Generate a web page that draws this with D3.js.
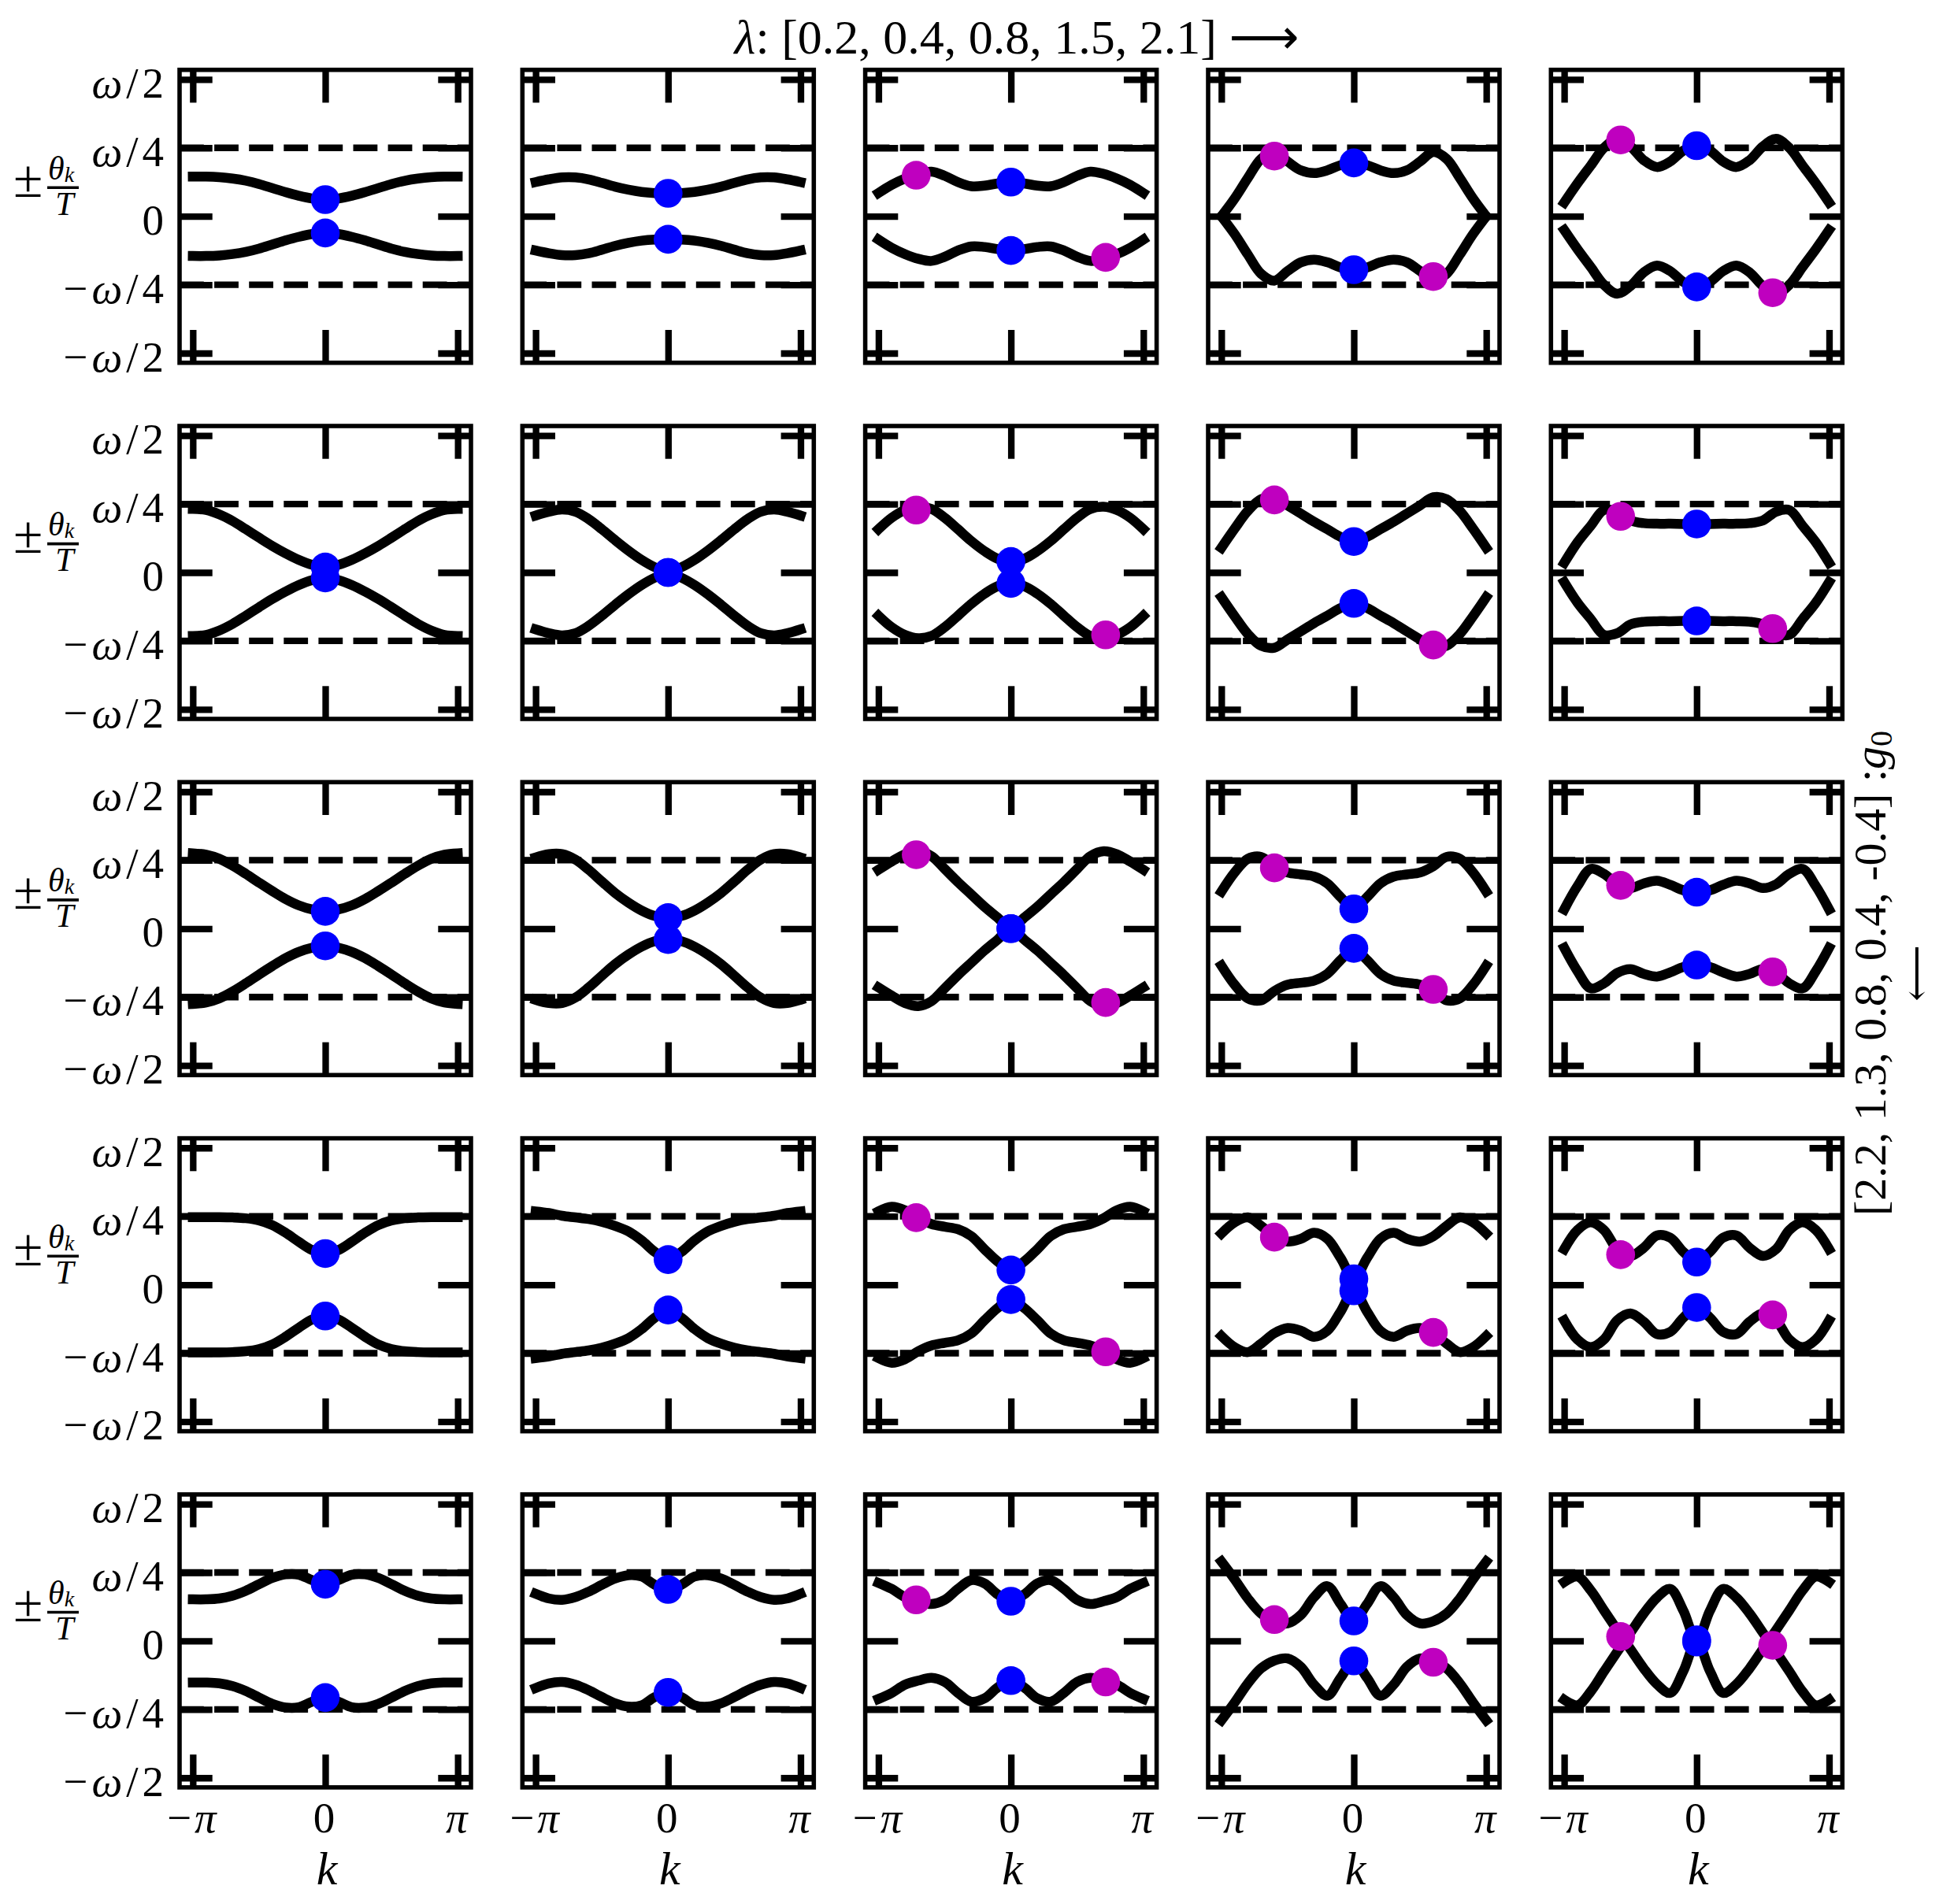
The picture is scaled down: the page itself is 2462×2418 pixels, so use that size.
<!DOCTYPE html>
<html><head><meta charset="utf-8">
<script src="https://cdn.jsdelivr.net/npm/d3@7"></script>
<style>
body{margin:0;background:#fff}
svg{display:block;background:#fff}
text{font-family:"Liberation Serif","DejaVu Serif",serif;fill:#000}
</style>
</head><body>
<svg id="chart" width="2462" height="2418"></svg>
<script>
// ---------------- data ----------------
const lambdas = ["0.2", "0.4", "0.8", "1.5", "2.1"];
const g0s = ["2.2", "1.3", "0.8", "0.4", "-0.4"];
const yTickVals = [-0.5, -0.25, 0, 0.25, 0.5];          // units of ω
const yTickLabels = ["−ω/2", "−ω/4", "0", "ω/4", "ω/2"];
const xTickVals = [-1, 0, 1];                            // units of π
const xTickLabels = ["−π", "0", "π"];
const kPi = [-1,-0.9,-0.8,-0.7,-0.6,-0.5,-0.4,-0.3,-0.2,-0.1,0,0.1,0.2,0.3,0.4,0.5,0.6,0.7,0.8,0.9,1];

const upperR1 = [
  [0.145,0.145,0.143,0.138,0.13,0.118,0.103,0.088,0.075,0.065,0.061,0.065,0.075,0.088,0.103,0.118,0.13,0.138,0.143,0.145,0.145],
  [0.125,0.135,0.142,0.142,0.135,0.122,0.108,0.097,0.089,0.085,0.084,0.085,0.089,0.097,0.108,0.122,0.135,0.142,0.142,0.135,0.125],
  [0.085,0.115,0.138,0.155,0.163,0.148,0.125,0.11,0.112,0.12,0.125,0.12,0.112,0.11,0.125,0.148,0.163,0.155,0.138,0.115,0.085],
  [0,0.065,0.14,0.21,0.235,0.2,0.168,0.158,0.168,0.187,0.195,0.187,0.168,0.158,0.168,0.2,0.235,0.21,0.14,0.065,0],
  [0.05,0.12,0.185,0.25,0.283,0.255,0.205,0.18,0.2,0.24,0.258,0.24,0.2,0.18,0.205,0.255,0.283,0.25,0.185,0.12,0.05]
];
const lowerR1 = [
  [-0.145,-0.145,-0.143,-0.138,-0.13,-0.118,-0.103,-0.088,-0.075,-0.065,-0.061,-0.065,-0.075,-0.088,-0.103,-0.118,-0.13,-0.138,-0.143,-0.145,-0.145],
  [-0.125,-0.135,-0.142,-0.142,-0.135,-0.122,-0.108,-0.097,-0.089,-0.085,-0.084,-0.085,-0.089,-0.097,-0.108,-0.122,-0.135,-0.142,-0.142,-0.135,-0.125],
  [-0.085,-0.115,-0.138,-0.155,-0.163,-0.148,-0.125,-0.11,-0.112,-0.12,-0.125,-0.12,-0.112,-0.11,-0.125,-0.148,-0.163,-0.155,-0.138,-0.115,-0.085],
  [0,-0.065,-0.14,-0.21,-0.235,-0.2,-0.168,-0.158,-0.168,-0.187,-0.195,-0.187,-0.168,-0.158,-0.168,-0.2,-0.235,-0.21,-0.14,-0.065,0],
  [-0.05,-0.12,-0.185,-0.25,-0.283,-0.255,-0.205,-0.18,-0.2,-0.24,-0.258,-0.24,-0.2,-0.18,-0.205,-0.255,-0.283,-0.25,-0.185,-0.12,-0.05]
];
const upperR2 = [
  [0.232,0.228,0.212,0.188,0.158,0.127,0.097,0.07,0.046,0.028,0.02,0.028,0.046,0.07,0.097,0.127,0.158,0.188,0.212,0.228,0.232],
  [0.208,0.222,0.23,0.222,0.195,0.158,0.118,0.08,0.046,0.019,0.003,0.019,0.046,0.08,0.118,0.158,0.195,0.222,0.23,0.222,0.208],
  [0.158,0.2,0.228,0.24,0.232,0.2,0.158,0.115,0.078,0.05,0.04,0.05,0.078,0.115,0.158,0.2,0.232,0.24,0.228,0.2,0.158],
  [0.09,0.16,0.225,0.268,0.275,0.245,0.215,0.185,0.158,0.13,0.113,0.13,0.158,0.185,0.215,0.245,0.275,0.268,0.225,0.16,0.09],
  [0.035,0.11,0.17,0.228,0.222,0.19,0.18,0.178,0.178,0.177,0.177,0.177,0.178,0.178,0.18,0.19,0.222,0.228,0.17,0.11,0.035]
];
const lowerR2 = [
  [-0.232,-0.228,-0.212,-0.188,-0.158,-0.127,-0.097,-0.07,-0.046,-0.028,-0.02,-0.028,-0.046,-0.07,-0.097,-0.127,-0.158,-0.188,-0.212,-0.228,-0.232],
  [-0.208,-0.222,-0.23,-0.222,-0.195,-0.158,-0.118,-0.08,-0.046,-0.019,-0.003,-0.019,-0.046,-0.08,-0.118,-0.158,-0.195,-0.222,-0.23,-0.222,-0.208],
  [-0.158,-0.2,-0.228,-0.24,-0.232,-0.2,-0.158,-0.115,-0.078,-0.05,-0.04,-0.05,-0.078,-0.115,-0.158,-0.2,-0.232,-0.24,-0.228,-0.2,-0.158],
  [-0.09,-0.16,-0.225,-0.268,-0.275,-0.245,-0.215,-0.185,-0.158,-0.13,-0.113,-0.13,-0.158,-0.185,-0.215,-0.245,-0.275,-0.268,-0.225,-0.16,-0.09],
  [-0.035,-0.11,-0.17,-0.228,-0.222,-0.19,-0.18,-0.178,-0.178,-0.177,-0.177,-0.177,-0.178,-0.178,-0.18,-0.19,-0.222,-0.228,-0.17,-0.11,-0.035]
];
const upperR3 = [
  [0.275,0.27,0.255,0.23,0.2,0.168,0.137,0.108,0.085,0.07,0.063,0.07,0.085,0.108,0.137,0.168,0.2,0.23,0.255,0.27,0.275],
  [0.26,0.272,0.272,0.252,0.215,0.172,0.13,0.095,0.066,0.046,0.04,0.046,0.066,0.095,0.13,0.172,0.215,0.252,0.272,0.272,0.26],
  [0.215,0.245,0.272,0.283,0.265,0.218,0.17,0.125,0.08,0.04,0,0.04,0.08,0.125,0.17,0.218,0.265,0.283,0.272,0.245,0.215],
  [0.135,0.205,0.255,0.262,0.228,0.205,0.198,0.19,0.165,0.115,0.072,0.115,0.165,0.19,0.198,0.205,0.228,0.262,0.255,0.205,0.135],
  [0.07,0.155,0.218,0.2,0.162,0.148,0.165,0.175,0.16,0.14,0.133,0.14,0.16,0.175,0.165,0.148,0.162,0.2,0.218,0.155,0.07]
];
const lowerR3 = [
  [-0.275,-0.27,-0.255,-0.23,-0.2,-0.168,-0.137,-0.108,-0.085,-0.07,-0.063,-0.07,-0.085,-0.108,-0.137,-0.168,-0.2,-0.23,-0.255,-0.27,-0.275],
  [-0.26,-0.272,-0.272,-0.252,-0.215,-0.172,-0.13,-0.095,-0.066,-0.046,-0.04,-0.046,-0.066,-0.095,-0.13,-0.172,-0.215,-0.252,-0.272,-0.272,-0.26],
  [-0.215,-0.245,-0.272,-0.283,-0.265,-0.218,-0.17,-0.125,-0.08,-0.04,0,-0.04,-0.08,-0.125,-0.17,-0.218,-0.265,-0.283,-0.272,-0.245,-0.215],
  [-0.135,-0.205,-0.255,-0.262,-0.228,-0.205,-0.198,-0.19,-0.165,-0.115,-0.072,-0.115,-0.165,-0.19,-0.198,-0.205,-0.228,-0.262,-0.255,-0.205,-0.135],
  [-0.07,-0.155,-0.218,-0.2,-0.162,-0.148,-0.165,-0.175,-0.16,-0.14,-0.133,-0.14,-0.16,-0.175,-0.165,-0.148,-0.162,-0.2,-0.218,-0.155,-0.07]
];
const upperR4 = [
  [0.247,0.247,0.247,0.246,0.243,0.235,0.218,0.19,0.157,0.127,0.114,0.127,0.157,0.19,0.218,0.235,0.243,0.246,0.247,0.247,0.247],
  [0.268,0.262,0.252,0.246,0.24,0.23,0.215,0.195,0.162,0.12,0.092,0.12,0.162,0.195,0.215,0.23,0.24,0.246,0.252,0.262,0.268],
  [0.268,0.285,0.272,0.243,0.222,0.212,0.203,0.178,0.13,0.085,0.054,0.085,0.13,0.178,0.203,0.212,0.222,0.243,0.272,0.285,0.268],
  [0.187,0.228,0.246,0.215,0.177,0.158,0.168,0.19,0.168,0.098,0.022,0.098,0.168,0.19,0.168,0.158,0.177,0.215,0.246,0.228,0.187],
  [0.13,0.2,0.228,0.2,0.13,0.105,0.135,0.18,0.172,0.12,0.083,0.12,0.172,0.18,0.135,0.105,0.13,0.2,0.228,0.2,0.13]
];
const lowerR4 = [
  [-0.247,-0.247,-0.247,-0.246,-0.243,-0.235,-0.218,-0.19,-0.157,-0.127,-0.114,-0.127,-0.157,-0.19,-0.218,-0.235,-0.243,-0.246,-0.247,-0.247,-0.247],
  [-0.268,-0.262,-0.252,-0.246,-0.24,-0.23,-0.215,-0.195,-0.162,-0.12,-0.092,-0.12,-0.162,-0.195,-0.215,-0.23,-0.24,-0.246,-0.252,-0.262,-0.268],
  [-0.268,-0.285,-0.272,-0.243,-0.222,-0.212,-0.203,-0.178,-0.13,-0.085,-0.054,-0.085,-0.13,-0.178,-0.203,-0.212,-0.222,-0.243,-0.272,-0.285,-0.268],
  [-0.187,-0.228,-0.246,-0.215,-0.177,-0.158,-0.168,-0.19,-0.168,-0.098,-0.022,-0.098,-0.168,-0.19,-0.168,-0.158,-0.177,-0.215,-0.246,-0.228,-0.187],
  [-0.13,-0.2,-0.228,-0.2,-0.13,-0.105,-0.135,-0.18,-0.172,-0.12,-0.083,-0.12,-0.172,-0.18,-0.135,-0.105,-0.13,-0.2,-0.228,-0.2,-0.13]
];
const upperR5 = [
  [0.152,0.152,0.155,0.165,0.183,0.207,0.23,0.243,0.242,0.222,0.207,0.222,0.242,0.243,0.23,0.207,0.183,0.165,0.155,0.152,0.152],
  [0.172,0.155,0.15,0.16,0.18,0.205,0.228,0.24,0.235,0.205,0.188,0.205,0.235,0.24,0.228,0.205,0.18,0.16,0.15,0.155,0.172],
  [0.212,0.19,0.16,0.145,0.135,0.15,0.19,0.222,0.21,0.17,0.145,0.17,0.21,0.222,0.19,0.15,0.135,0.145,0.16,0.19,0.212],
  [0.29,0.225,0.155,0.1,0.072,0.064,0.095,0.16,0.2,0.135,0.073,0.135,0.2,0.16,0.095,0.064,0.072,0.1,0.155,0.225,0.29],
  [0.215,0.235,0.185,0.112,0.04,-0.03,-0.1,-0.158,-0.19,-0.11,0,-0.11,-0.19,-0.158,-0.1,-0.03,0.04,0.112,0.185,0.235,0.215]
];
const lowerR5 = [
  [-0.152,-0.152,-0.155,-0.165,-0.183,-0.207,-0.23,-0.243,-0.242,-0.222,-0.207,-0.222,-0.242,-0.243,-0.23,-0.207,-0.183,-0.165,-0.155,-0.152,-0.152],
  [-0.172,-0.155,-0.15,-0.16,-0.18,-0.205,-0.228,-0.24,-0.235,-0.205,-0.188,-0.205,-0.235,-0.24,-0.228,-0.205,-0.18,-0.16,-0.15,-0.155,-0.172],
  [-0.212,-0.19,-0.16,-0.145,-0.135,-0.15,-0.19,-0.222,-0.21,-0.17,-0.145,-0.17,-0.21,-0.222,-0.19,-0.15,-0.135,-0.145,-0.16,-0.19,-0.212],
  [-0.29,-0.225,-0.155,-0.1,-0.072,-0.064,-0.095,-0.16,-0.2,-0.135,-0.073,-0.135,-0.2,-0.16,-0.095,-0.064,-0.072,-0.1,-0.155,-0.225,-0.29],
  [-0.215,-0.235,-0.185,-0.112,-0.04,0.03,0.1,0.158,0.19,0.11,0,0.11,0.19,0.158,0.1,0.03,-0.04,-0.112,-0.185,-0.235,-0.215]
];

// blue markers at k = 0 (upper / lower value), per row, columns 1..5
const blueUpR1 = [0.061,0.084,0.125,0.195,0.258], blueLoR1 = [-0.061,-0.084,-0.125,-0.195,-0.258];
const blueUpR2 = [0.02,0,0.04,0.113,0.177],       blueLoR2 = [-0.02,0,-0.04,-0.113,-0.177];
const blueUpR3 = [0.063,0.04,0,0.072,0.133],      blueLoR3 = [-0.063,-0.04,0,-0.072,-0.133];
const blueUpR4 = [0.114,0.092,0.054,0.022,0.083], blueLoR4 = [-0.114,-0.092,-0.054,-0.022,-0.083];
const blueUpR5 = [0.207,0.188,0.145,0.073,0.004], blueLoR5 = [-0.207,-0.188,-0.145,-0.073,-0.004];

// magenta markers (columns 3..5 only): k (units of π) and values
const magKUp = [-0.715, -0.6, -0.574], magKLo = [0.715, 0.6, 0.574];
const magUpR1 = [0.15,0.22,0.279],  magLoR1 = [-0.15,-0.22,-0.279];
const magUpR2 = [0.228,0.265,0.205], magLoR2 = [-0.228,-0.265,-0.205];
const magUpR3 = [0.27,0.222,0.158],  magLoR3 = [-0.27,-0.222,-0.158];
const magUpR4 = [0.245,0.174,0.11],  magLoR4 = [-0.245,-0.174,-0.11];
const magUpR5 = [0.15,0.078,0.016],  magLoR5 = [-0.15,-0.078,-0.016];

// ---------------- drawing ----------------
const upperRows = [upperR1, upperR2, upperR3, upperR4, upperR5];
const lowerRows = [lowerR1, lowerR2, lowerR3, lowerR4, lowerR5];
const blueUpRows = [blueUpR1, blueUpR2, blueUpR3, blueUpR4, blueUpR5];
const blueLoRows = [blueLoR1, blueLoR2, blueLoR3, blueLoR4, blueLoR5];
const magUpRows = [magUpR1, magUpR2, magUpR3, magUpR4, magUpR5];
const magLoRows = [magLoR1, magLoR2, magLoR3, magLoR4, magLoR5];

const svg = d3.select('#chart');
const W = 370, H = 372;
const colX = [228, 663.3, 1098.6, 1534, 1969.3];
const rowY = [88.7, 541, 993.3, 1445.6, 1897.9];
const TICK = 41.7;

const x = d3.scaleLinear().domain([-1.1, 1.1]).range([0, W]);
const y = d3.scaleLinear().domain([-0.535, 0.535]).range([H, 0]);
const line = d3.line().x((d, i) => x(kPi[i])).y(d => y(d)).curve(d3.curveCatmullRom.alpha(0.5));

const ITAL = /[ωπλθkTg]/;
function setMath(sel, str) {
  sel.text(null);
  let runs = [];
  for (const ch of str) {
    const it = ITAL.test(ch);
    if (runs.length && runs[runs.length - 1].it === it) runs[runs.length - 1].s += ch;
    else runs.push({ s: ch, it });
  }
  runs.forEach(r => sel.append('tspan').attr('font-style', r.it ? 'italic' : 'normal').text(r.s));
}

for (let r = 0; r < 5; r++) {
  for (let c = 0; c < 5; c++) {
    const g = svg.append('g').attr('transform', `translate(${colX[c]},${rowY[r]})`);

    // ticks (inward, all four sides)
    const left = g.append('g').call(d3.axisLeft(y).tickValues(yTickVals).tickSize(-TICK).tickPadding(15)
      .tickFormat((d, i) => c === 0 ? yTickLabels[i] : ''));
    const right = g.append('g').attr('transform', `translate(${W},0)`)
      .call(d3.axisRight(y).tickValues(yTickVals).tickSize(-TICK).tickFormat(() => ''));
    const top = g.append('g').call(d3.axisTop(x).tickValues(xTickVals).tickSize(-TICK).tickFormat(() => ''));
    const bottom = g.append('g').attr('transform', `translate(0,${H})`)
      .call(d3.axisBottom(x).tickValues(xTickVals).tickSize(-TICK).tickPadding(18)
      .tickFormat((d, i) => r === 4 ? xTickLabels[i] : ''));
    [left, right, top, bottom].forEach(a => {
      a.select('.domain').remove();
      a.attr('font-size', null).attr('font-family', null);
      a.selectAll('.tick line').attr('stroke', '#000').attr('stroke-width', 8.33);
    });
    if (c === 0) {
      left.selectAll('.tick text').attr('font-size', 55).attr('dy', '0.41em').attr('letter-spacing', 5)
        .each(function (d, i) { setMath(d3.select(this), yTickLabels[i]); });
    }
    if (r === 4) {
      bottom.selectAll('.tick text').attr('font-size', 55).attr('letter-spacing', 4)
        .each(function (d, i) { setMath(d3.select(this), xTickLabels[i]); });
    }

    // dashed reference lines at ±ω/4
    [0.25, -0.25].forEach(v => {
      g.append('line').attr('x1', 0).attr('x2', W).attr('y1', y(v)).attr('y2', y(v))
        .attr('stroke', '#000').attr('stroke-width', 8.33).attr('stroke-dasharray', '30.8,13.3');
    });

    // curves
    [upperRows[r][c], lowerRows[r][c]].forEach(arr => {
      g.append('path').attr('d', line(arr)).attr('fill', 'none').attr('stroke', '#000')
        .attr('stroke-width', 12.5).attr('stroke-linecap', 'square').attr('stroke-linejoin', 'round');
    });

    // markers
    if (c >= 2) {
      const m = c - 2;
      [[magKUp[m], magUpRows[r][m]], [magKLo[m], magLoRows[r][m]]].forEach(p => {
        g.append('circle').attr('cx', x(p[0])).attr('cy', y(p[1])).attr('r', 18.3).attr('fill', '#bf00bf');
      });
    }
    [blueUpRows[r][c], blueLoRows[r][c]].forEach(v => {
      g.append('circle').attr('cx', x(0)).attr('cy', y(v)).attr('r', 18.3).attr('fill', '#0000ff');
    });

    // frame
    g.append('rect').attr('width', W).attr('height', H).attr('fill', 'none')
      .attr('stroke', '#000').attr('stroke-width', 5.56);

    // y label (left column)
    if (c === 0) {
      const ly = rowY[r];
      svg.append('text').attr('x', 17).attr('y', ly + 161).attr('font-size', 68).text('±');
      const th = svg.append('text').attr('x', 61).attr('y', ly + 139).attr('font-size', 42);
      th.append('tspan').attr('font-style', 'italic').text('θ');
      th.append('tspan').attr('font-style', 'italic').attr('font-size', 28).attr('dy', 3).text('k');
      svg.append('line').attr('x1', 60).attr('x2', 100).attr('y1', ly + 149.6).attr('y2', ly + 149.6)
        .attr('stroke', '#000').attr('stroke-width', 3.6);
      svg.append('text').attr('x', 82).attr('y', ly + 184).attr('font-size', 42)
        .attr('text-anchor', 'middle').attr('font-style', 'italic').text('T');
    }
    // x label (bottom row)
    if (r === 4) {
      svg.append('text').attr('x', colX[c] + W / 2 + 2).attr('y', 2393).attr('font-size', 60)
        .attr('text-anchor', 'middle').attr('font-style', 'italic').text('k');
    }
  }
}

// title
const title = svg.append('text').attr('x', 1291).attr('y', 68).attr('font-size', 62).attr('text-anchor', 'middle');
title.append('tspan').attr('font-style', 'italic').text('λ');
title.append('tspan').text(': [' + lambdas.join(', ') + '] ');
title.append('tspan').attr('font-family', '"DejaVu Sans"').text('⟶');

// right label (rotated)
const rg = svg.append('g').attr('transform', 'translate(2394,1236) rotate(-90)');
const rl = rg.append('text').attr('x', 0).attr('y', 0).attr('font-size', 58).attr('text-anchor', 'middle');
rl.append('tspan').text('[' + g0s.join(', ') + '] :');
rl.append('tspan').attr('font-style', 'italic').text('g');
rl.append('tspan').attr('font-size', 40).attr('dy', 8).text('0');
rg.append('text').attr('x', 0).attr('y', 39).attr('font-size', 50).attr('text-anchor', 'middle')
  .attr('dominant-baseline', 'central').attr('font-family', '"DejaVu Sans"').text('⟵');
</script>
</body></html>
